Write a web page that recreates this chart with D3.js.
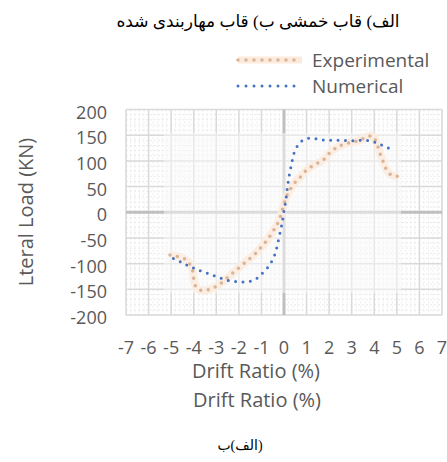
<!DOCTYPE html>
<html><head><meta charset="utf-8">
<script src="https://cdn.jsdelivr.net/npm/d3@7"></script>
<style>body{margin:0;background:#fff}</style>
</head><body>
<script>
// ---- data ----
const xTicks = [-7,-6,-5,-4,-3,-2,-1,0,1,2,3,4,5,6,7];
const yTicks = [-200,-150,-100,-50,0,50,100,150,200];
const expDrift = [-5.05,-4.75,-4.39,-4.16,-4.04,-3.99,-3.87,-3.65,-3.35,-3.06,-2.76,-2.39,-2.02,-1.65,-1.28,-0.99,-0.69,-0.40,-0.21,-0.03,0.15,0.31,0.49,0.71,0.93,1.15,1.37,1.60,1.82,2.01,2.18,2.41,2.70,3.07,3.44,3.74,3.93,4.11,4.25,4.40,4.55,4.77,5.06];
const expLoad  = [-83,-86,-91,-102,-115,-132,-148,-152,-151,-146,-137,-123,-109,-95,-81,-67,-51,-31,-15,11,35,47,58,68,79,87,93,98,105,115,121,128,133,137,142,148,148,134,115,98,82,72,70];
const numDrift = [-4.9,-4.53,-4.24,-3.94,-3.65,-3.32,-3.01,-2.69,-2.35,-2.04,-1.70,-1.39,-1.09,-0.87,-0.65,-0.50,-0.38,-0.30,-0.22,-0.14,-0.08,-0.03,0.02,0.08,0.12,0.16,0.21,0.27,0.34,0.41,0.52,0.71,0.97,1.30,1.63,1.96,2.29,2.63,2.96,3.29,3.62,3.96,4.25,4.58,4.89];
const numLoad  = [-90,-98,-104,-110,-115,-120,-125,-130,-134,-135,-136,-133,-125,-114,-104,-91,-79,-65,-49,-33,-20,-6,8,23,37,51,66,81,95,110,123,136,143,144,141,140,140,140,139,140,140,137,132,126,120];
const seriesNames = ["Experimental","Numerical"];
const titleText = "الف) قاب خمشی  ب) قاب مهاربندی شده";
const bottomText = "الف)ب)";

// ---- layout ----
const W=447,H=462;
const svg=d3.select("body").append("svg").attr("width",W).attr("height",H);
svg.append("rect").attr("width",W).attr("height",H).attr("fill","#fff");
const x=d3.scaleLinear().domain([-7,7]).range([126,442]);
const y=d3.scaleLinear().domain([-200,200]).range([315,109.5]);
const font="'Open Sans', 'Liberation Sans', sans-serif";
const txt="#595959";

// minor grid
const g=svg.append("g");
const minorX=d3.range(-7,7.001,0.2), minorY=d3.range(-200,200.01,10);
g.selectAll(".mx").data(minorX).join("line")
 .attr("x1",d=>x(d)).attr("x2",d=>x(d)).attr("y1",y(200)).attr("y2",y(-200))
 .attr("stroke","#ebebeb").attr("stroke-width",1).attr("stroke-dasharray","2,2");
g.selectAll(".my").data(minorY).join("line")
 .attr("y1",d=>y(d)).attr("y2",d=>y(d)).attr("x1",x(-7)).attr("x2",x(7))
 .attr("stroke","#ebebeb").attr("stroke-width",1).attr("stroke-dasharray","2,2");
// major grid
g.selectAll(".MX").data(xTicks).join("line")
 .attr("x1",d=>x(d)).attr("x2",d=>x(d)).attr("y1",y(200)).attr("y2",y(-200))
 .attr("stroke","#d9d9d9").attr("stroke-width",1.5);
g.selectAll(".MY").data(yTicks).join("line")
 .attr("y1",d=>y(d)).attr("y2",d=>y(d)).attr("x1",x(-7)).attr("x2",x(7))
 .attr("stroke","#d9d9d9").attr("stroke-width",1.5);
// zero axes
g.append("line").attr("x1",x(-7)).attr("x2",x(7)).attr("y1",y(0)).attr("y2",y(0))
 .attr("stroke","#bfbfbf").attr("stroke-width",3);
g.append("line").attr("x1",x(0)).attr("x2",x(0)).attr("y1",y(200)).attr("y2",y(-200))
 .attr("stroke","#bfbfbf").attr("stroke-width",3);

// inner pasted panel (lighter)
svg.append("rect").attr("x",164).attr("y",133).attr("width",237).attr("height",160)
 .attr("fill","#fafafa").attr("opacity",0.5);

// series
const line=d3.line().x(d=>x(d[0])).y(d=>y(d[1])).curve(d3.curveCatmullRom);
const expPts=expDrift.map((d,i)=>[d,expLoad[i]]);
const numPts=numDrift.map((d,i)=>[d,numLoad[i]]);
svg.append("path").attr("d",line(expPts)).attr("fill","none")
 .attr("stroke","#fcebdd").attr("stroke-width",8).attr("stroke-linejoin","round").attr("opacity",0.85);
svg.append("path").attr("d",line(expPts)).attr("fill","none")
 .attr("stroke","#d9b497").attr("stroke-width",3.5).attr("stroke-linecap","round").attr("stroke-dasharray","0,7.5");
svg.append("path").attr("d",line(numPts)).attr("fill","none")
 .attr("stroke","#4472c4").attr("stroke-width",3).attr("stroke-linecap","round").attr("stroke-dasharray","0,7.4");

// y tick labels
svg.selectAll(".yl").data(yTicks).join("text")
 .attr("x",107).attr("y",d=>y(d)+2).attr("text-anchor","end").attr("dominant-baseline","central")
 .attr("font-family",font).attr("font-size",18).attr("fill",txt).text(d=>d);
// x tick labels
svg.selectAll(".xl").data(xTicks).join("text")
 .attr("x",d=>x(d)).attr("y",354).attr("text-anchor","middle")
 .attr("font-family",font).attr("font-size",18).attr("fill",txt).text(d=>d);

// axis titles
svg.append("text").attr("transform","translate(33,212) rotate(-90)").attr("text-anchor","middle")
 .attr("font-family",font).attr("font-size",20).attr("fill",txt).text("Lteral Load (KN)");
svg.append("text").attr("x",256).attr("y",378).attr("text-anchor","middle")
 .attr("font-family",font).attr("font-size",20).attr("fill",txt).text("Drift Ratio (%)");
svg.append("text").attr("x",257).attr("y",407).attr("text-anchor","middle")
 .attr("font-family",font).attr("font-size",20).attr("fill",txt).text("Drift Ratio (%)");

// legend
const lg=svg.append("g");
const legY=[60,86];
lg.append("line").attr("x1",238).attr("x2",302).attr("y1",legY[0]).attr("y2",legY[0])
 .attr("stroke","#fcebdd").attr("stroke-width",7);
lg.append("line").attr("x1",238).attr("x2",302).attr("y1",legY[0]).attr("y2",legY[0])
 .attr("stroke","#d9b497").attr("stroke-width",3.5).attr("stroke-linecap","round").attr("stroke-dasharray","0,8");
lg.append("line").attr("x1",238).attr("x2",302).attr("y1",legY[1]).attr("y2",legY[1])
 .attr("stroke","#4472c4").attr("stroke-width",3).attr("stroke-linecap","round").attr("stroke-dasharray","0,8");
lg.selectAll("text").data(seriesNames).join("text")
 .attr("x",312).attr("y",(d,i)=>legY[i]+7).attr("font-family",font).attr("font-size",19)
 .attr("fill",txt).text(d=>d);

// Persian captions
svg.append("text").attr("x",258).attr("y",27).attr("text-anchor","middle").attr("direction","rtl")
 .attr("font-family","'Times New Roman','DejaVu Sans',serif").attr("font-size",17).attr("fill","#000")
 .text(titleText);
svg.append("text").attr("x",240).attr("y",450).attr("text-anchor","middle")
 .attr("font-family","'Times New Roman','DejaVu Sans',serif").attr("font-size",14).attr("fill","#000")
 .text(bottomText);
</script>
</body></html>
